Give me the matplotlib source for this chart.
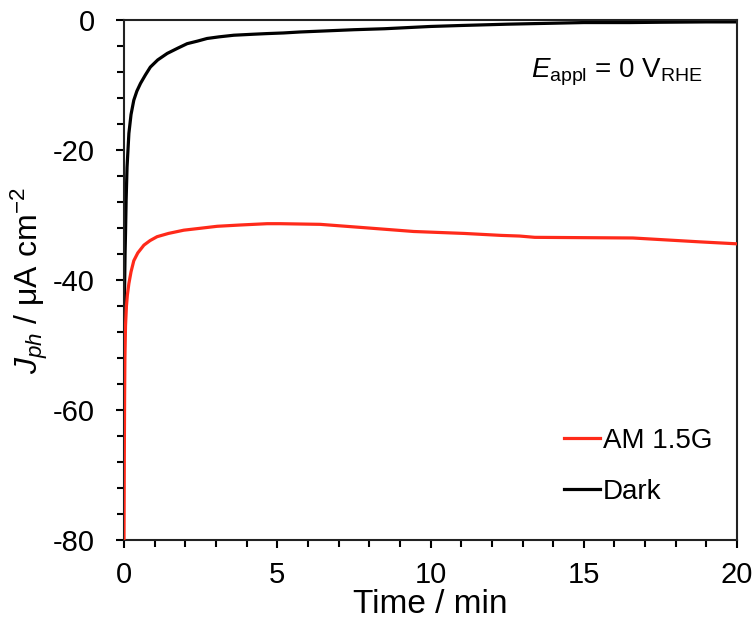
import matplotlib.pyplot as plt
from matplotlib.ticker import MultipleLocator

plt.rcParams['font.family'] = ['Liberation Sans', 'DejaVu Sans']
plt.rcParams['mathtext.fontset'] = 'custom'
plt.rcParams['mathtext.rm'] = 'Liberation Sans'
plt.rcParams['mathtext.it'] = 'Liberation Sans:italic'
plt.rcParams['axes.unicode_minus'] = False

# time in minutes, current density in uA cm^-2
t_light = [0.0, 0.01, 0.02, 0.03, 0.05, 0.08, 0.11, 0.16, 0.23, 0.32,
           0.45, 0.65, 0.85, 1.08, 1.45, 1.95, 2.5, 3.04, 3.8, 4.67,
           5.1, 6.4, 7.8, 9.45, 11.1, 12.3, 12.9, 13.4, 15.0, 16.6,
           17.7, 18.8, 20.0]
j_light = [-80.0, -68.0, -58.0, -52.0, -47.0, -44.0, -42.3, -40.5, -38.7, -37.0,
           -35.8, -34.6, -33.9, -33.3, -32.8, -32.3, -32.0, -31.7, -31.5, -31.3,
           -31.3, -31.4, -31.9, -32.5, -32.8, -33.1, -33.2, -33.4, -33.45, -33.5,
           -33.8, -34.1, -34.4]

t_dark = [0.0, 0.01, 0.02, 0.035, 0.05, 0.07, 0.1, 0.16, 0.23, 0.32,
          0.42, 0.54, 0.7, 0.86, 1.1, 1.41, 1.75, 2.06, 2.4, 2.71,
          3.1, 3.58, 4.2, 4.65, 5.2, 5.74, 6.5, 7.5, 8.5, 10.0,
          11.0, 12.5, 14.0, 15.0, 16.5, 17.5, 19.0, 20.0]
j_dark = [-55.4, -47.0, -41.0, -36.0, -32.8, -27.7, -22.6, -17.4, -14.5, -12.3,
          -10.9, -9.7, -8.4, -7.2, -6.1, -5.1, -4.3, -3.6, -3.2, -2.8,
          -2.55, -2.3, -2.15, -2.05, -1.95, -1.8, -1.65, -1.45, -1.3, -0.95,
          -0.8, -0.6, -0.45, -0.35, -0.35, -0.3, -0.25, -0.25]

fig = plt.figure(figsize=(7.56, 6.34), dpi=100)
ax = fig.add_axes([0.164, 0.148, 0.811, 0.82])

ax.plot(t_light, j_light, color='#ff2a1a', lw=2.3, label='AM 1.5G', zorder=3)
ax.plot(t_dark, j_dark, color='black', lw=2.3, label='Dark', zorder=2)

ax.set_xlim(0, 20)
ax.set_ylim(-80, 0)
ax.xaxis.set_major_locator(MultipleLocator(5))
ax.xaxis.set_minor_locator(MultipleLocator(1))
ax.yaxis.set_major_locator(MultipleLocator(20))
ax.yaxis.set_minor_locator(MultipleLocator(4))
ax.tick_params(which='both', direction='out', width=1.5, top=False, right=False)
ax.tick_params(which='major', length=6, labelsize=21)
ax.tick_params(which='minor', length=5)
ax.tick_params(axis='x', which='major', pad=9)
ax.tick_params(axis='y', which='major', pad=15)
for sp in ax.spines.values():
    sp.set_linewidth(1.5)
    sp.set_color('#222222')

ax.set_xlabel('Time / min', fontsize=24, labelpad=0)
ax.set_ylabel('$J_{ph}$ / μA cm$^{-2}$', fontsize=23, labelpad=2)

ax.text(0.804, 0.9, r'$E_\mathrm{appl}$ = 0 V$_\mathrm{RHE}$', transform=ax.transAxes,
        fontsize=20, ha='center', va='center')

ax.legend(loc='lower right', frameon=False, fontsize=20, handlelength=1.3,
          handletextpad=0.1, labelspacing=0.9, bbox_to_anchor=(1.0, 0.02))

fig.savefig('out.png', dpi=100)
